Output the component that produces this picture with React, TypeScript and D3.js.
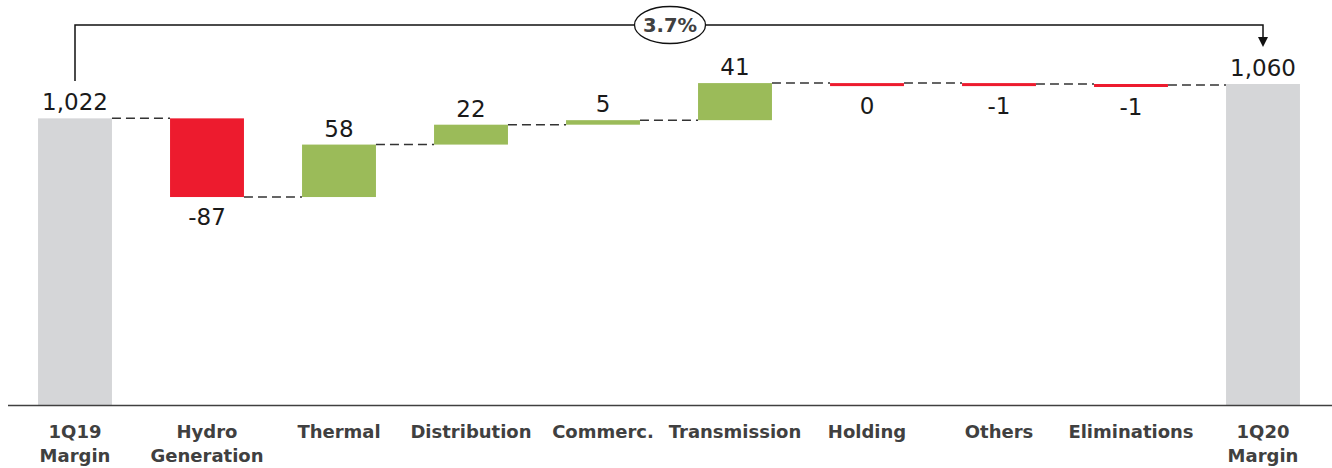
import React from 'react';
import * as d3 from 'd3';

const categories = [
  '1Q19\nMargin', 'Hydro\nGeneration', 'Thermal', 'Distribution', 'Commerc.',
  'Transmission', 'Holding', 'Others', 'Eliminations', '1Q20\nMargin',
];
const startValue = 1022;
const deltas = [-87, 58, 22, 5, 41, 0, -1, -1];
const endValue = 1060;
const changeLabel = '3.7%';

const W = 1332;
const H = 468;
const baseY = 405;
const topY = 84;

const GREY = '#d5d6d8';
const RED = '#ed1b2e';
const GREEN = '#9bbb59';
// plain hyphen for negatives, like the source deck
const fmt = d3.formatLocale({ decimal: '.', thousands: ',', grouping: [3], currency: ['', ''], minus: '-' }).format(',');

export default function App() {
  const x = d3.scaleBand<string>()
    .domain(categories)
    .range([9, 1329])
    .paddingInner(0.44)
    .paddingOuter(0.22);

  const y = d3.scaleLinear().domain([705, endValue]).range([baseY, topY]);
  const bw = x.bandwidth();

  // running total for each step
  let cum = startValue;
  const steps = deltas.map((d, i) => {
    const from = cum;
    cum += d;
    return { cat: categories[i + 1], d, from, to: cum };
  });

  const bars: any[] = [];
  bars.push({ cat: categories[0], y0: y(startValue), y1: baseY, fill: GREY, label: fmt(startValue), above: true, level: y(startValue) });
  steps.forEach((s) => {
    let top = y(Math.max(s.from, s.to));
    let bot = y(Math.min(s.from, s.to));
    if (bot - top < 3) {
      if (s.d > 0) top = bot - 3;
      else { top = y(s.from); bot = top + 3; }
    }
    bars.push({
      cat: s.cat, y0: top, y1: bot,
      fill: s.d > 0 ? GREEN : RED,
      label: fmt(s.d), above: s.d > 0,
      level: y(s.to),
    });
  });
  bars.push({ cat: categories[9], y0: y(endValue), y1: baseY, fill: GREY, label: fmt(endValue), above: true, level: y(endValue) });

  const cx0 = x(categories[0])! + bw / 2;
  const cx9 = x(categories[9])! + bw / 2;
  const bracketY = 25;

  return (
    <svg width={W} height={H} style={{ position: 'absolute', left: 0, top: 0 }}>
      {/* connectors */}
      {bars.slice(0, -1).map((b, i) => (
        <line key={'c' + i}
          x1={x(b.cat)! + bw} x2={x(bars[i + 1].cat)!}
          y1={b.level} y2={b.level}
          stroke="#333" strokeWidth={1.5} strokeDasharray="9,5" />
      ))}
      {bars.map((b, i) => (
        <rect key={'b' + i} x={x(b.cat)} y={b.y0} width={bw} height={b.y1 - b.y0} fill={b.fill} />
      ))}
      {bars.map((b, i) => (
        <text key={'v' + i}
          x={x(b.cat)! + bw / 2}
          y={b.above ? b.y0 - 8 : b.y1 + 28}
          textAnchor="middle" fontFamily="DejaVu Sans" fontSize={23} fill="#1a1a1a">
          {b.label}
        </text>
      ))}
      {/* axis */}
      <line x1={8} x2={W} y1={baseY + 0.5} y2={baseY + 0.5} stroke="#404040" strokeWidth={1.5} />
      {categories.map((c) => (
        <text key={c} x={x(c)! + bw / 2} y={438} textAnchor="middle"
          fontFamily="DejaVu Sans" fontWeight="bold" fontSize={18} fill="#404040">
          {c.split('\n').map((t, j) => (
            <tspan key={j} x={x(c)! + bw / 2} dy={j === 0 ? 0 : 24}>{t}</tspan>
          ))}
        </text>
      ))}
      {/* change bracket */}
      <path d={`M${cx0},81 V${bracketY} H${cx9} V40`} fill="none" stroke="#111" strokeWidth={1.5} />
      <path d={`M${cx9 - 5},37 L${cx9 + 5},37 L${cx9},47 Z`} fill="#111" />
      <ellipse cx={670} cy={bracketY} rx={35.5} ry={18.5} fill="#fff" stroke="#111" strokeWidth={1.3} />
      <text x={670} y={bracketY + 7} textAnchor="middle" fontFamily="DejaVu Sans" fontWeight="bold" fontSize={19.5} fill="#404040">
        {changeLabel}
      </text>
    </svg>
  );
}
